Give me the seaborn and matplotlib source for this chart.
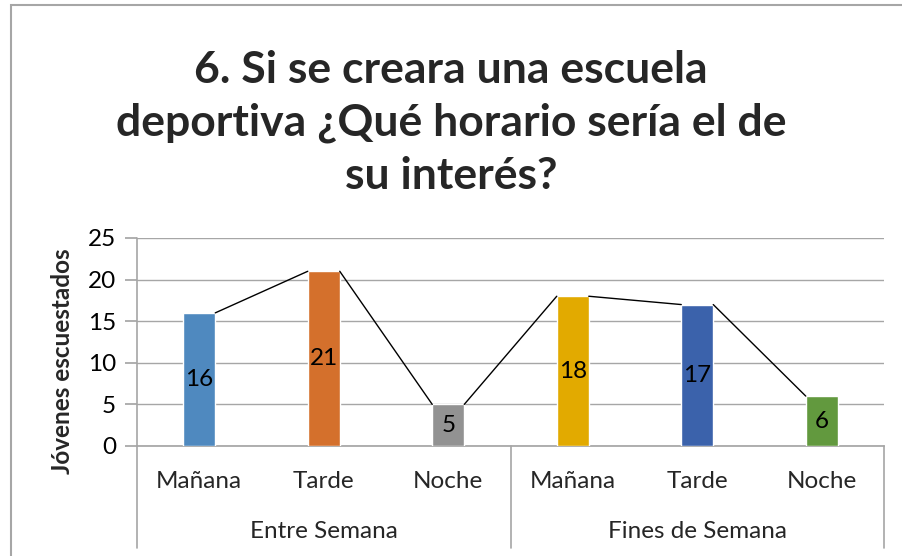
import matplotlib
matplotlib.use('Agg')
import matplotlib.pyplot as plt
import matplotlib.transforms as mtransforms
from matplotlib.patches import Rectangle
import pandas as pd
import seaborn as sns

# data
grupos = ['Entre Semana', 'Fines de Semana']
horarios = ['Mañana', 'Tarde', 'Noche']
valores = [16, 21, 5, 18, 17, 6]
colores = ['#4F89BF', '#D4702C', '#929292', '#E2AA00', '#3B62AB', '#62993E']
titulo = '6. Si se creara una escuela\ndeportiva ¿Qué horario sería el de\nsu interés?'

claves = [g + '|' + h for g in grupos for h in horarios]
df = pd.DataFrame({'clave': claves, 'valor': valores})

sns.set_theme(style='white')
plt.rcParams['font.family'] = ['Lato', 'DejaVu Sans']
gris = '#A6A6A6'

fig = plt.figure(figsize=(9.02, 5.56), dpi=100)
ax = fig.add_axes([137 / 902, 1 - 446 / 556, 747 / 902, 208 / 556])

sns.barplot(data=df, x='clave', y='valor', hue='clave', palette=colores,
            order=claves, hue_order=claves, width=0.257, legend=False,
            saturation=1, ax=ax, zorder=3)

ax.set_xlim(-0.5, len(claves) - 0.5)
ax.set_ylim(0, 25)
ax.set_yticks(range(0, 26, 5))
ax.grid(axis='y', color=gris, linewidth=1, zorder=0)
ax.set_axisbelow(True)
for lado in ['top', 'right', 'left']:
    ax.spines[lado].set_visible(False)
ax.spines['bottom'].set_color(gris)
ax.tick_params(axis='y', length=9, left=True, labelsize=17.5, pad=6, colors=gris, labelcolor='black')
ax.tick_params(axis='x', length=0, labelsize=17.5, pad=18)
ax.set_xticks(range(len(claves)))
ax.set_xticklabels([c.split('|')[1] for c in claves])
ax.set_xlabel('')

ax.set_ylabel('Jóvenes escuestados', fontsize=17.5, fontweight='bold')
ax.yaxis.label.set_va('center')
ax.yaxis.set_label_coords(-75 / 747, 0.41)

# data labels in the middle of each bar
barras = sorted(ax.patches, key=lambda p: p.get_x())
for cont in ax.containers:
    ax.bar_label(cont, label_type='center', fontsize=17.5, color='black')

# series lines from the top right corner of one bar to the top left of the next
for a, b in zip(barras[:-1], barras[1:]):
    ax.plot([a.get_x() + a.get_width(), b.get_x()], [a.get_height(), b.get_height()],
            color='black', linewidth=1, zorder=4)

# multi-level category axis
trans = mtransforms.blended_transform_factory(ax.transData, ax.transAxes)
for x in [-0.5, 2.5, 5.5]:
    ax.plot([x, x], [0, -102 / 208], color=gris, linewidth=1.2, transform=trans, clip_on=False)
ax.plot([-0.5, -0.5], [0, 1], color=gris, linewidth=1.2, transform=trans, clip_on=False)
for i, g in enumerate(grupos):
    ax.text(i * 3 + 1, -86 / 208, g, transform=trans, ha='center', va='center', fontsize=17.5)

fig.text(0.5, 1 - 123 / 556, titulo, ha='center', va='center', fontsize=32,
         fontweight='bold', linespacing=1.38)

fig.patches.append(Rectangle((11 / 902, -0.1), 1.2, 1 - 5 / 556 + 0.1, transform=fig.transFigure,
                             fill=False, edgecolor=gris, linewidth=1.5))

fig.savefig('out.png', dpi=100)
